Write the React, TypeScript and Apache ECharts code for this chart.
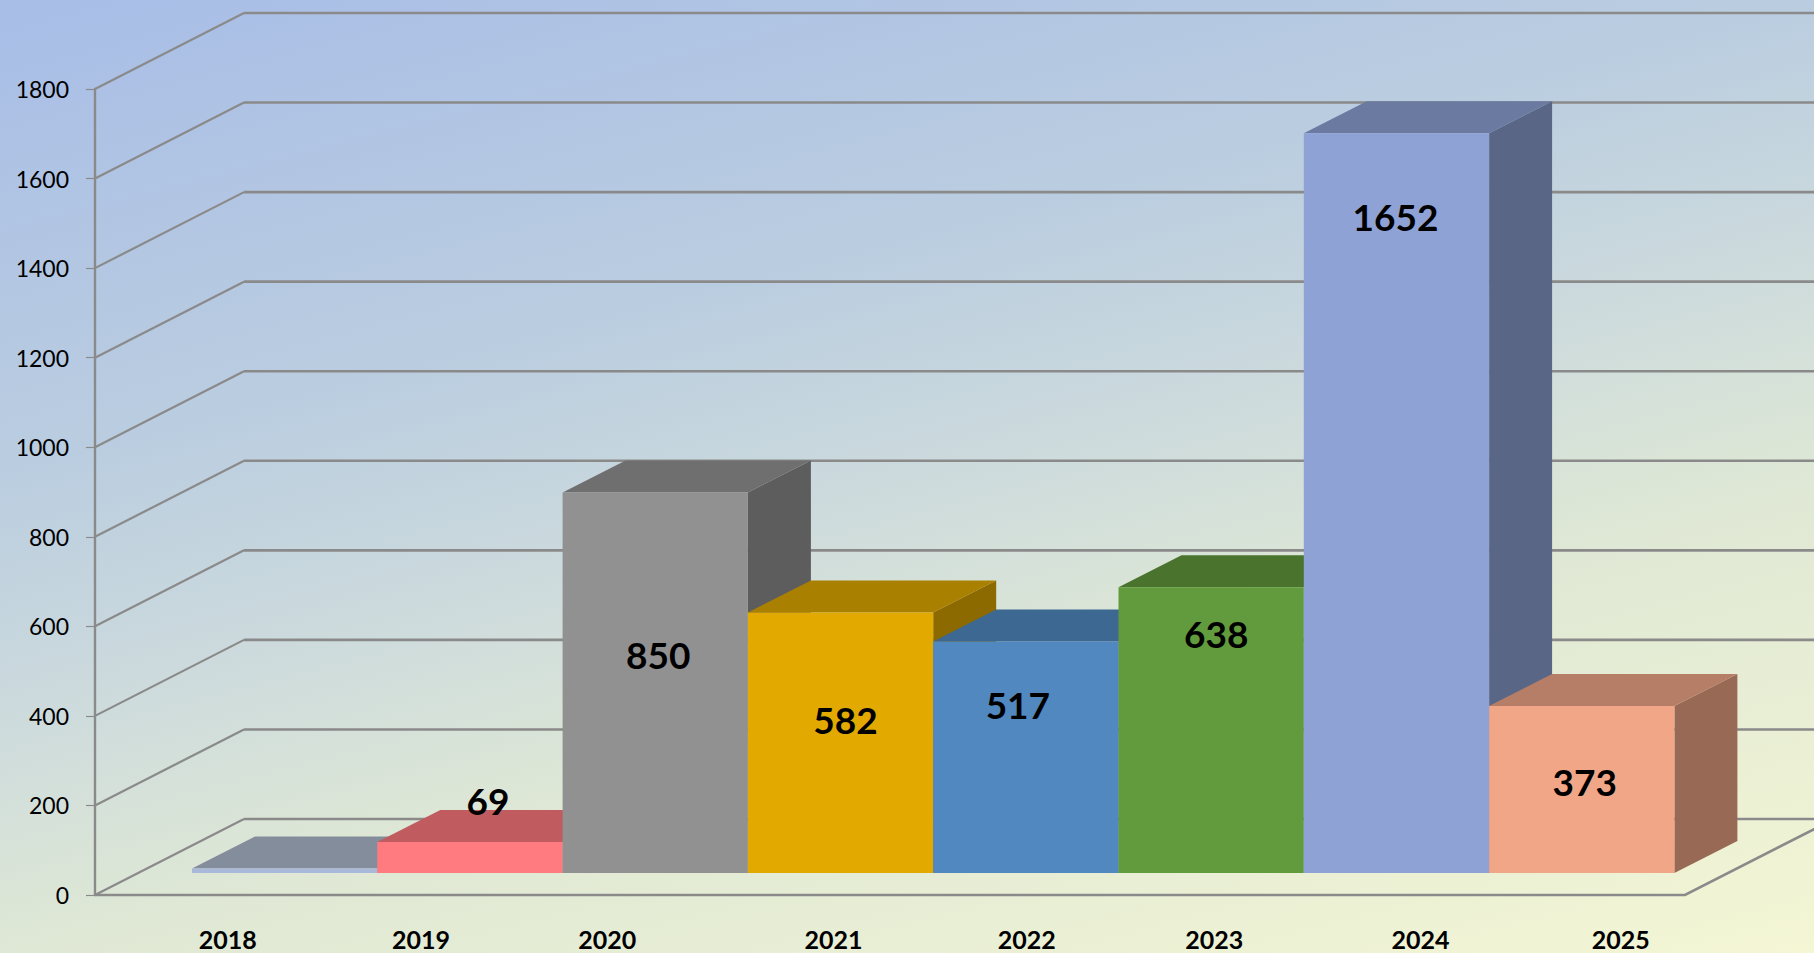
import React, { useEffect, useRef } from "react";
import * as echarts from "echarts";

// ---- data ----
const categories = ["2018", "2019", "2020", "2021", "2022", "2023", "2024", "2025"];
const values = [10, 69, 850, 582, 517, 638, 1652, 373];
const barLabels = ["", "69", "850", "582", "517", "638", "1652", "373"];
const valueTicks = [0, 200, 400, 600, 800, 1000, 1200, 1400, 1600, 1800];

// ---- styles ----
const frontColors = ["#a8b9da", "#ff7b80", "#919191", "#e2a900", "#5088bf", "#629b3d", "#8fa2d6", "#f2a688"];
const topColors = ["#848d9b", "#c05c60", "#6f6f6f", "#a98000", "#3c6891", "#4a742e", "#6b7aa0", "#b67e66"];
const sideColors = ["#6d7687", "#a04e50", "#5d5d5d", "#8c6a00", "#32567a", "#3d6026", "#5a6686", "#986954"];
const labelShiftX = [0, 18, 3, 5, -8, 5, -1, 3];
const labelShiftFromTop = [0, -42, 162, 107, 63, 46, 83, 76];
const categoryShiftX = [-57, -49, -48, -7, 1, 3, 24, 39];
const wallDepth = [149, -76];
const barDepth = [63, -32];
const gridColor = "#8a8a8a";
const fontFamily = "Lato, Carlito, 'Open Sans', sans-serif";

export default function App() {
  const ref = useRef<HTMLDivElement>(null);
  useEffect(() => {
    document.body.style.margin = "0";
    document.body.style.overflow = "hidden";
    const chart = echarts.init(ref.current!, null, { renderer: "svg" });
    chart.setOption({
      animation: false,
      backgroundColor: new echarts.graphic.LinearGradient(0, 0, 0.59, 1.2, [
        { offset: 0, color: "#a8bde7" },
        { offset: 0.33, color: "#bacde0" },
        { offset: 0.5, color: "#ccdadd" },
        { offset: 0.67, color: "#dfe8d5" },
        { offset: 1, color: "#f4f6d4" },
      ]),
      grid: [
        { left: 95, top: 89, width: 1590, height: 806 },
        { left: 192, top: 67, width: 1482.4, height: 806 },
      ],
      xAxis: [
        { gridIndex: 0, type: "value", min: 0, max: 1, show: false },
        {
          gridIndex: 1,
          type: "category",
          data: categories.map((c, i) => {
            const s = categoryShiftX[i];
            return {
              value: c,
              textStyle: { padding: s > 0 ? [0, 0, 0, 2 * s] : [0, -2 * s, 0, 0] },
            };
          }),
          axisLine: { show: false },
          axisTick: { show: false },
          axisLabel: {
            interval: 0,
            margin: 55,
            color: "#000",
            fontFamily,
            fontWeight: "bold",
            fontSize: 25,
            lineHeight: 21,
            hideOverlap: false,
          },
        },
      ],
      yAxis: [
        {
          gridIndex: 0,
          type: "value",
          min: 0,
          max: 1800,
          interval: 200,
          axisLine: { show: true, lineStyle: { color: gridColor, width: 2.4 } },
          axisTick: { show: true, length: 9, lineStyle: { color: gridColor, width: 1.2 } },
          axisLabel: {
            margin: 26,
            color: "#000",
            fontFamily,
            fontSize: 23,
            formatter: (v: number) => String(v),
          },
          splitLine: { show: false },
        },
        { gridIndex: 1, type: "value", min: 0, max: 1800, interval: 200, show: false, splitLine: { show: false } },
      ],
      series: [
        {
          type: "custom",
          silent: true,
          xAxisIndex: 0,
          yAxisIndex: 0,
          data: valueTicks.map((v) => [0, v]),
          encode: { x: 0, y: 1 },
          renderItem: (params: any, api: any) => {
            const v = api.value(1);
            const a = api.coord([0, v]);
            const r = api.coord([1, v]);
            const back = [a[0] + wallDepth[0], a[1] + wallDepth[1]];
            const children: any[] = [
              {
                type: "line",
                shape: { x1: a[0], y1: a[1], x2: back[0], y2: back[1] },
                style: { stroke: gridColor, lineWidth: 2.2, fill: null },
              },
              {
                type: "line",
                shape: { x1: back[0], y1: back[1], x2: api.getWidth() + 20, y2: back[1] },
                style: { stroke: gridColor, lineWidth: 2.6, fill: null },
              },
            ];
            if (v === 0) {
              children.push({
                type: "polyline",
                shape: {
                  points: [a, r, [r[0] + wallDepth[0], r[1] + wallDepth[1]]],
                },
                style: { stroke: gridColor, lineWidth: 2.6, fill: null },
              });
            }
            return { type: "group", children };
          },
        },
        {
          type: "custom",
          silent: true,
          xAxisIndex: 1,
          yAxisIndex: 1,
          data: values.map((v, i) => [i, v]),
          encode: { x: 0, y: 1 },
          renderItem: (params: any, api: any) => {
            const i = api.value(0);
            const v = api.value(1);
            const base = api.coord([i, 0]);
            const top = api.coord([i, v]);
            const w = api.size([1, 0])[0];
            const x0 = base[0] - w / 2;
            const x1 = x0 + w;
            const [dx, dy] = barDepth;
            const children: any[] = [
              {
                type: "polygon",
                shape: {
                  points: [[x1, top[1]], [x1 + dx, top[1] + dy], [x1 + dx, base[1] + dy], [x1, base[1]]],
                },
                style: { fill: sideColors[i] },
              },
              {
                type: "polygon",
                shape: {
                  points: [[x0, top[1]], [x0 + dx, top[1] + dy], [x1 + dx, top[1] + dy], [x1, top[1]]],
                },
                style: { fill: topColors[i] },
              },
              {
                type: "rect",
                shape: { x: x0, y: top[1], width: w, height: base[1] - top[1] },
                style: { fill: frontColors[i] },
              },
            ];
            if (barLabels[i]) {
              children.push({
                type: "text",
                x: base[0] + labelShiftX[i],
                y: top[1] + labelShiftFromTop[i],
                style: {
                  text: barLabels[i],
                  fill: "#000",
                  font: `bold 37px ${fontFamily}`,
                  align: "center",
                  verticalAlign: "middle",
                },
              });
            }
            return { type: "group", children };
          },
        },
      ],
    });
    return () => chart.dispose();
  }, []);
  return (
    <div
      ref={ref}
      style={{ position: "fixed", left: 0, top: 0, width: 1814, height: 953 }}
    />
  );
}
